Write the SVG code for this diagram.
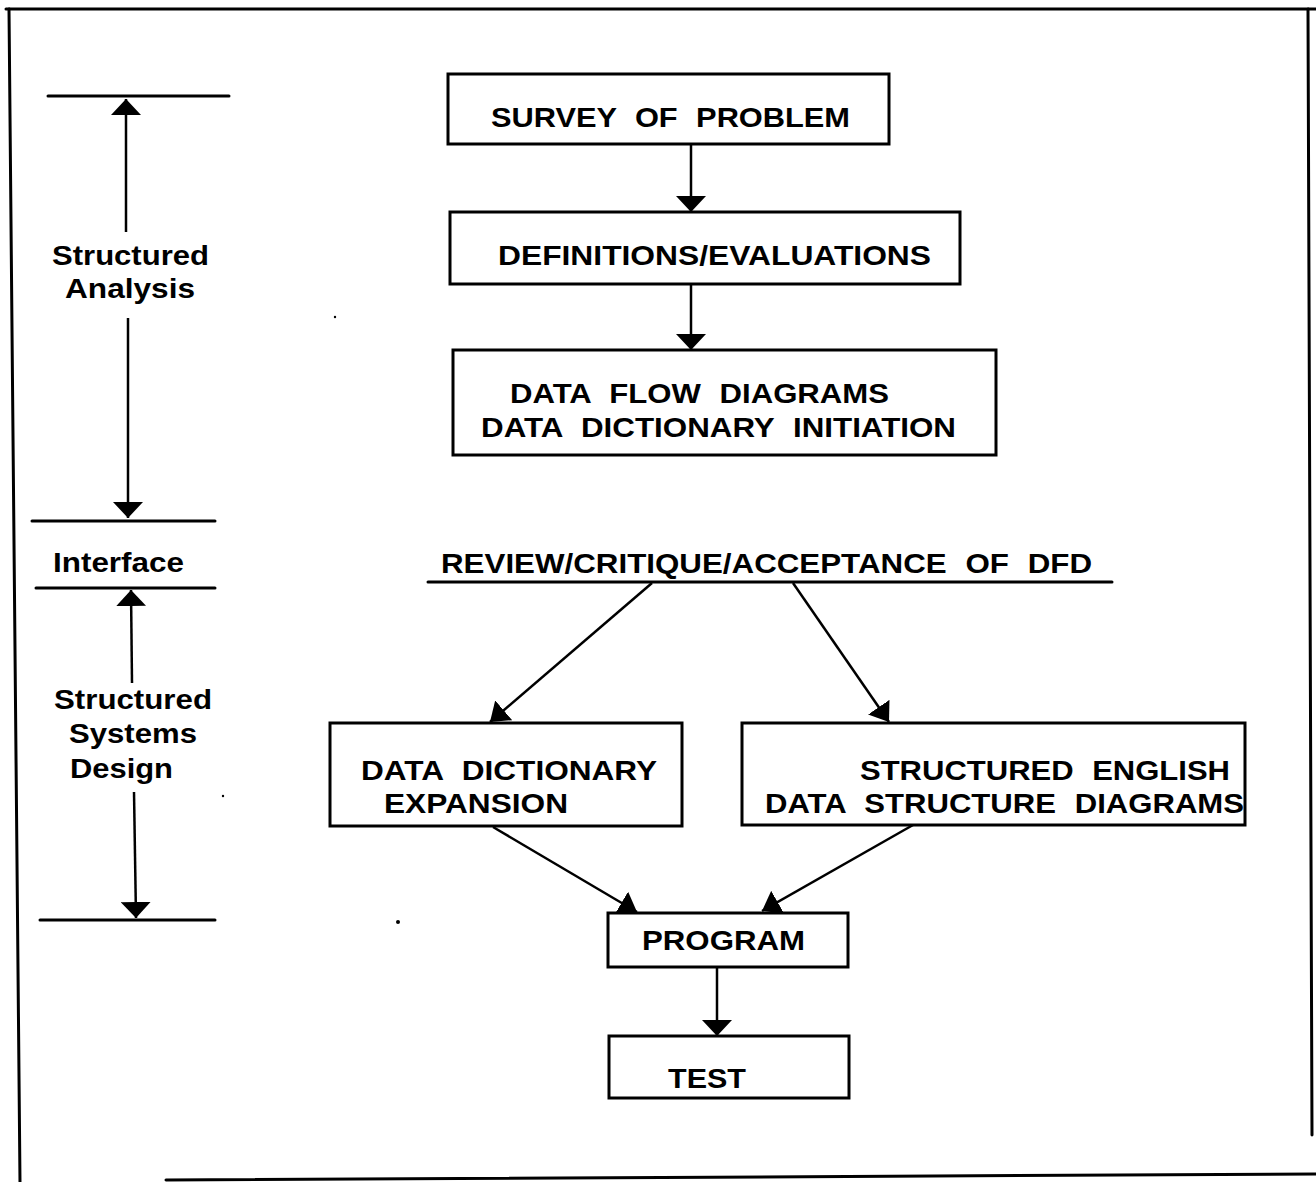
<svg xmlns="http://www.w3.org/2000/svg" width="1316" height="1182" viewBox="0 0 1316 1182">
<defs>
<style>
.f{fill:none;stroke:#000;stroke-width:3;stroke-linecap:round}
.b{fill:#fff;stroke:#000;stroke-width:3}
.c{fill:none;stroke:#000;stroke-width:2.5}
.t{font-family:"Liberation Sans",Arial,sans-serif;font-weight:bold;font-size:28px;fill:#000}
.w{word-spacing:9px}
</style>
<marker id="ah" viewBox="0 0 16 30" refX="16" refY="15" markerWidth="16" markerHeight="30" markerUnits="userSpaceOnUse" orient="auto">
<path d="M0,0 L16,15 L0,30 z" fill="#000"/>
</marker>
<marker id="ahs" viewBox="0 0 18 26" refX="18" refY="13" markerWidth="18" markerHeight="26" markerUnits="userSpaceOnUse" orient="auto">
<path d="M0,0 L18,13 L0,26 z" fill="#000"/>
</marker>
</defs>
<rect width="1316" height="1182" fill="#fff"/>

<g id="frame">
<line class="f" x1="6" y1="9" x2="1316" y2="9"/>
<line class="f" x1="9" y1="9" x2="20" y2="1182"/>
<line class="f" x1="1308" y1="9" x2="1312" y2="1135"/>
<line class="f" x1="166" y1="1180" x2="1316" y2="1174"/>
</g>

<g id="phases">
<line class="f" x1="48" y1="96" x2="229" y2="96"/>
<line class="f" x1="32" y1="521" x2="215" y2="521"/>
<line class="f" x1="36" y1="588" x2="215" y2="588"/>
<line class="f" x1="40" y1="920" x2="215" y2="920"/>
<text class="t" x="52" y="265" textLength="157" lengthAdjust="spacingAndGlyphs">Structured</text>
<text class="t" x="65" y="298" textLength="130" lengthAdjust="spacingAndGlyphs">Analysis</text>
<text class="t" x="53" y="572" textLength="131" lengthAdjust="spacingAndGlyphs">Interface</text>
<text class="t" x="54" y="709" textLength="158" lengthAdjust="spacingAndGlyphs">Structured</text>
<text class="t" x="69" y="743" textLength="128" lengthAdjust="spacingAndGlyphs">Systems</text>
<text class="t" x="70" y="778" textLength="103" lengthAdjust="spacingAndGlyphs">Design</text>
<circle cx="335" cy="317" r="1.2" fill="#000"/>
<circle cx="223" cy="796" r="1.2" fill="#000"/>
<circle cx="398" cy="922" r="2" fill="#000"/>
</g>

<g id="survey">
<rect class="b" x="448" y="74" width="441" height="70"/>
<text class="t w" x="491" y="127" textLength="359" lengthAdjust="spacingAndGlyphs">SURVEY OF PROBLEM</text>
</g>
<g id="definitions">
<rect class="b" x="450" y="212" width="510" height="72"/>
<text class="t" x="498" y="265" textLength="433" lengthAdjust="spacingAndGlyphs">DEFINITIONS/EVALUATIONS</text>
</g>
<g id="dfd">
<rect class="b" x="453" y="350" width="543" height="105"/>
<text class="t w" x="510" y="403" textLength="379" lengthAdjust="spacingAndGlyphs">DATA FLOW DIAGRAMS</text>
<text class="t w" x="481" y="437" textLength="475" lengthAdjust="spacingAndGlyphs">DATA DICTIONARY INITIATION</text>
</g>
<g id="review">
<text class="t w" x="441" y="573" textLength="651" lengthAdjust="spacingAndGlyphs">REVIEW/CRITIQUE/ACCEPTANCE OF DFD</text>
<line class="f" x1="428" y1="582" x2="1112" y2="582"/>
</g>
<g id="ddexpansion">
<rect class="b" x="330" y="723" width="352" height="103"/>
<text class="t w" x="361" y="780" textLength="296" lengthAdjust="spacingAndGlyphs">DATA DICTIONARY</text>
<text class="t" x="384" y="813" textLength="184" lengthAdjust="spacingAndGlyphs">EXPANSION</text>
</g>
<g id="structured">
<rect class="b" x="742" y="723" width="503" height="102"/>
<text class="t w" x="860" y="780" textLength="370" lengthAdjust="spacingAndGlyphs">STRUCTURED ENGLISH</text>
<text class="t w" x="765" y="813" textLength="479" lengthAdjust="spacingAndGlyphs">DATA STRUCTURE DIAGRAMS</text>
</g>
<g id="program">
<rect class="b" x="608" y="913" width="240" height="54"/>
<text class="t" x="642" y="950" textLength="163" lengthAdjust="spacingAndGlyphs">PROGRAM</text>
</g>
<g id="test">
<rect class="b" x="609" y="1036" width="240" height="62"/>
<text class="t" x="668" y="1088" textLength="78" lengthAdjust="spacingAndGlyphs">TEST</text>
</g>

<g id="connectors">
<line class="c" x1="126" y1="232" x2="126" y2="99" marker-end="url(#ah)"/>
<line class="c" x1="128" y1="318" x2="128" y2="518" marker-end="url(#ah)"/>
<line class="c" x1="132" y1="683" x2="131" y2="590" marker-end="url(#ah)"/>
<line class="c" x1="134" y1="792" x2="136" y2="918" marker-end="url(#ah)"/>
<line class="c" x1="691" y1="144" x2="691" y2="212" marker-end="url(#ah)"/>
<line class="c" x1="691" y1="284" x2="691" y2="350" marker-end="url(#ah)"/>
<line class="c" x1="652" y1="583" x2="490" y2="722" marker-end="url(#ahs)"/>
<line class="c" x1="793" y1="583" x2="889" y2="722" marker-end="url(#ahs)"/>
<line class="c" x1="493" y1="827" x2="637" y2="912" marker-end="url(#ahs)"/>
<line class="c" x1="913" y1="825" x2="762" y2="911" marker-end="url(#ahs)"/>
<line class="c" x1="717" y1="967" x2="717" y2="1036" marker-end="url(#ah)"/>
</g>
</svg>
